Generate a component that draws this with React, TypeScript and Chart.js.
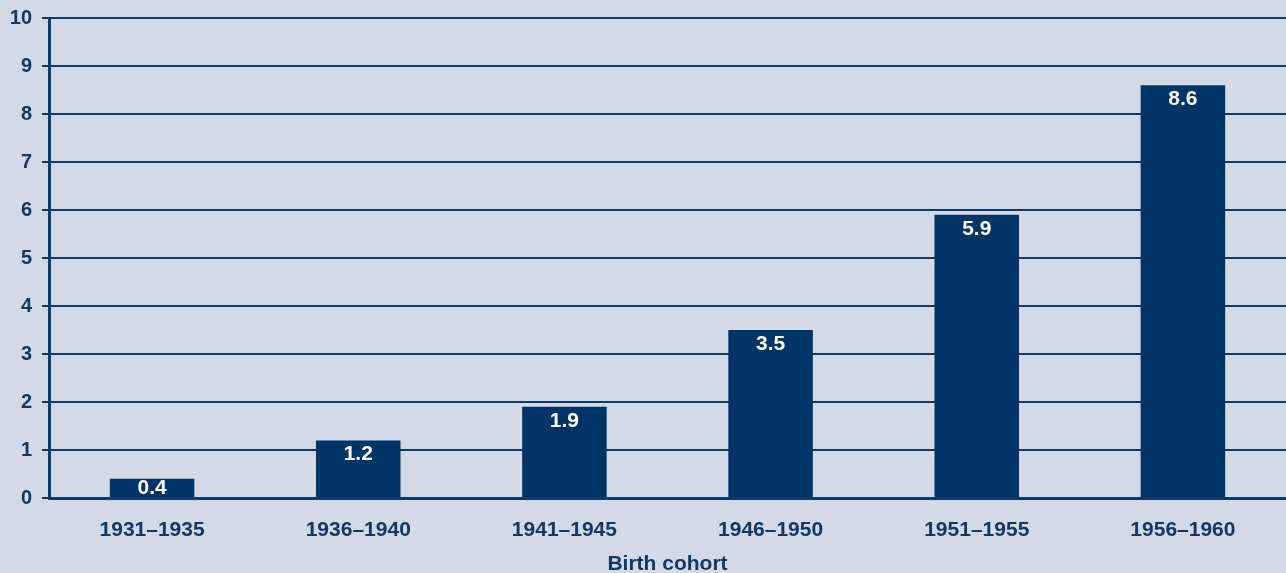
import React, { useEffect, useRef } from "react";
import { Chart, registerables } from "chart.js";

Chart.register(...registerables);

const categories = ["1931–1935", "1936–1940", "1941–1945", "1946–1950", "1951–1955", "1956–1960"];
const values = [0.4, 1.2, 1.9, 3.5, 5.9, 8.6];
const valueLabels = ["0.4", "1.2", "1.9", "3.5", "5.9", "8.6"];
const xTitle = "Birth cohort";

const BG = "#d3d9e7";
const NAVY = "#003366";
const LINE = "#0b3a6b";
const TEXT = "#143865";
const FONT = "'Liberation Sans', Arial, sans-serif";

const bgPlugin = {
  id: "bgFill",
  beforeDraw(chart: any) {
    const ctx = chart.ctx;
    ctx.save();
    ctx.fillStyle = BG;
    ctx.fillRect(0, 0, chart.width, chart.height);
    ctx.restore();
  },
};

const labelPlugin = {
  id: "barLabels",
  afterDatasetsDraw(chart: any) {
    const ctx = chart.ctx;
    const meta = chart.getDatasetMeta(0);
    ctx.save();
    ctx.fillStyle = "#ffffff";
    ctx.font = `bold 21px ${FONT}`;
    ctx.textAlign = "center";
    ctx.textBaseline = "middle";
    meta.data.forEach((bar: any, i: number) => {
      const y = Math.min(bar.y + 14, (bar.y + bar.base) / 2);
      ctx.fillText(valueLabels[i], bar.x, y);
    });
    ctx.restore();
  },
};

export default function App() {
  const ref = useRef<HTMLCanvasElement>(null);
  useEffect(() => {
    document.body.style.margin = "0";
    document.body.style.background = BG;
    const chart = new Chart(ref.current!, {
      type: "bar",
      data: {
        labels: categories,
        datasets: [
          {
            data: values,
            backgroundColor: NAVY,
            barPercentage: 0.41,
            categoryPercentage: 1,
          },
        ],
      },
      options: {
        animation: false,
        responsive: false,
        maintainAspectRatio: false,
        layout: { padding: { top: 18, right: 0, left: 0, bottom: 0 } },
        plugins: { legend: { display: false }, tooltip: { enabled: false } },
        scales: {
          x: {
            grid: { display: false, drawTicks: false },
            border: { display: true, color: LINE, width: 3 },
            ticks: {
              color: TEXT,
              font: { family: FONT, size: 21, weight: "bold" },
              padding: 20,
              maxRotation: 0,
            },
            title: {
              display: true,
              text: xTitle,
              color: TEXT,
              font: { family: FONT, size: 21, weight: "bold" },
              padding: { top: 0, bottom: -4 },
            },
            afterFit(scale: any) {
              scale.height = 75;
              scale.paddingLeft = 0;
              scale.paddingRight = 0;
            },
          },
          y: {
            min: 0,
            max: 10,
            ticks: {
              stepSize: 1,
              color: TEXT,
              font: { family: FONT, size: 20, weight: "bold" },
              padding: 10,
            },
            grid: { color: LINE, lineWidth: 2, drawTicks: true, tickLength: 7 },
            border: { display: true, color: LINE, width: 3 },
            afterFit(scale: any) {
              scale.width = 49;
              scale.paddingTop = 0;
              scale.paddingBottom = 0;
            },
          },
        },
      },
      plugins: [bgPlugin, labelPlugin],
    });
    return () => chart.destroy();
  }, []);
  return (
    <div style={{ width: 1286, height: 573, background: BG }}>
      <canvas ref={ref} width={1286} height={573} style={{ display: "block" }} />
    </div>
  );
}
